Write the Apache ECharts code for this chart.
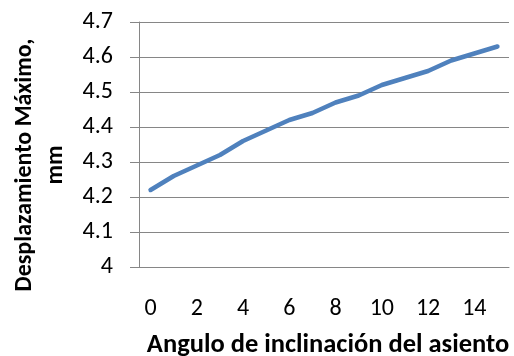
<!DOCTYPE html>
<html>
<head>
<meta charset="utf-8">
<script src="https://cdn.jsdelivr.net/npm/echarts@6/dist/echarts.min.js"></script>
<style>
html,body{margin:0;padding:0;background:#fff;}
#chart{width:514px;height:356px;}
</style>
</head>
<body>
<div id="chart"></div>
<script>
const categories = ['0','1','2','3','4','5','6','7','8','9','10','11','12','13','14','15'];
const values = [4.22,4.26,4.29,4.32,4.36,4.39,4.42,4.44,4.47,4.49,4.52,4.54,4.56,4.59,4.61,4.63];
const xTitle = 'Angulo de inclinación del asiento';
const yTitle = 'Desplazamiento Máximo,\nmm';

const FONT = 'Carlito, "Open Sans", sans-serif';
const chart = echarts.init(document.getElementById('chart'), null, {renderer:'canvas'});
chart.setOption({
  animation:false,
  grid:{left:139,right:5,top:22,bottom:89,containLabel:false},
  xAxis:{
    type:'category', data:categories, boundaryGap:true,
    axisLine:{show:true,lineStyle:{color:'#868686',width:1}},
    axisTick:{show:false},
    axisLabel:{interval:1,color:'#000',fontFamily:FONT,fontSize:24,margin:30}
  },
  yAxis:{
    type:'value', min:4, max:4.7, interval:0.1,
    axisLine:{show:true,lineStyle:{color:'#868686',width:1}},
    axisTick:{show:true,length:9,lineStyle:{color:'#868686'}},
    splitLine:{show:true,lineStyle:{color:'#868686',width:1}},
    axisLabel:{color:'#000',fontFamily:FONT,fontSize:24,margin:26,
      formatter:v=>String(Math.round(v*10)/10)}
  },
  series:[{
    type:'line', data:values, symbol:'none', smooth:false,
    lineStyle:{color:'#4F81BD',width:4.5,cap:'round',join:'round'}
  }],
  graphic:[
    {type:'text', x:328, y:359,
      style:{text:xTitle,font:'bold 26.5px '+FONT,fill:'#000',align:'center',verticalAlign:'bottom'}},
    {type:'text', rotation:Math.PI/2, x:40, y:165,
      style:{text:yTitle,font:'bold 24px '+FONT,fill:'#000',align:'center',verticalAlign:'middle',lineHeight:31}}
  ]
});
</script>
</body>
</html>
